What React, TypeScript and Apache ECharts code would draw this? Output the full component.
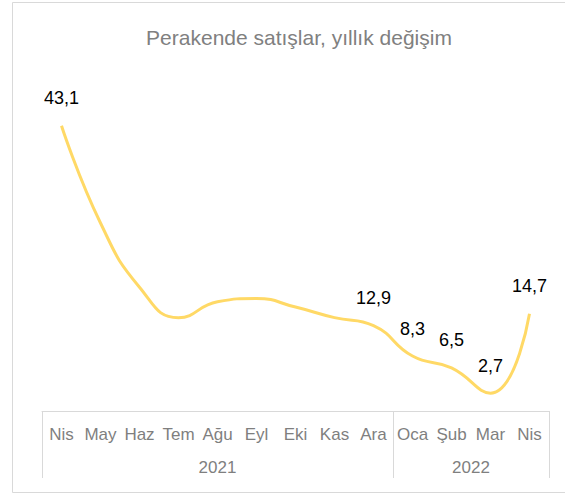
import React, { useEffect, useRef } from "react";
import * as echarts from "echarts";

const title = "Perakende satışlar, yıllık değişim";
const months = ["Nis", "May", "Haz", "Tem", "Ağu", "Eyl", "Eki", "Kas", "Ara", "Oca", "Şub", "Mar", "Nis"];
const values = [43.1, 28.4, 18.7, 14.1, 16.5, 17.0, 15.7, 14.1, 12.9, 8.3, 6.5, 2.7, 14.7];
const labelled = [0, 8, 9, 10, 11, 12];
const years = ["2021", "2022"];
const yearBounds = [0, 9, 13];
const yearCenters = [4.5, 11];

const FONT = "'Liberation Sans', Arial, sans-serif";
const GRID = "#d9d9d9";

export default function App() {
  const ref = useRef<HTMLDivElement>(null);
  useEffect(() => {
    if (!ref.current) return;
    const chart = echarts.init(ref.current, null, { renderer: "svg" });
    chart.setOption({
      animation: false,
      backgroundColor: "#fff",
      title: {
        text: title,
        left: 294,
        top: 22,
        textAlign: "center",
        textStyle: { fontFamily: FONT, fontSize: 21, fontWeight: "normal", color: "#808080" },
      },
      graphic: [
        {
          type: "rect",
          shape: { x: 12.5, y: 2.5, width: 580, height: 490 },
          style: { fill: "none", stroke: GRID, lineWidth: 1 },
          silent: true,
          z: -1,
        },
      ],
      grid: { left: 42, right: 16, top: 80, bottom: 84, containLabel: false },
      xAxis: [
        {
          type: "category",
          data: months,
          boundaryGap: true,
          axisLine: { show: true, lineStyle: { color: GRID, width: 1 } },
          axisTick: { show: false },
          axisLabel: { interval: 0, margin: 15, fontFamily: FONT, fontSize: 17, color: "#7f7f7f" },
        },
        {
          type: "value",
          position: "bottom",
          min: 0,
          max: months.length,
          axisLine: { show: false },
          splitLine: { show: false },
          axisTick: {
            show: true,
            customValues: yearBounds,
            length: 67,
            lineStyle: { color: GRID, width: 1 },
          },
          axisLabel: {
            customValues: yearCenters,
            margin: 48,
            fontFamily: FONT,
            fontSize: 17,
            color: "#7f7f7f",
            formatter: (v: number) => years[yearCenters.indexOf(v)] ?? "",
          },
        },
      ],
      yAxis: {
        type: "value",
        min: 0,
        max: 50,
        show: false,
        splitLine: { show: false },
      },
      series: [
        {
          type: "line",
          smooth: true,
          symbol: "circle",
          symbolSize: 1,
          showSymbol: true,
          itemStyle: { color: "rgba(0,0,0,0)" },
          lineStyle: { color: "#FFD966", width: 3 },
          data: values.map((v, i) => ({
            value: v,
            label: { show: labelled.includes(i) },
          })),
          label: {
            show: false,
            position: "top",
            distance: 18,
            fontFamily: FONT,
            fontSize: 18,
            color: "#000",
            formatter: (p: any) => Number(p.value).toFixed(1).replace(".", ","),
          },
        },
      ],
    });
    return () => chart.dispose();
  }, []);
  return (
    <div
      ref={ref}
      style={{ position: "fixed", left: 0, top: 0, width: 565, height: 495 }}
    />
  );
}
